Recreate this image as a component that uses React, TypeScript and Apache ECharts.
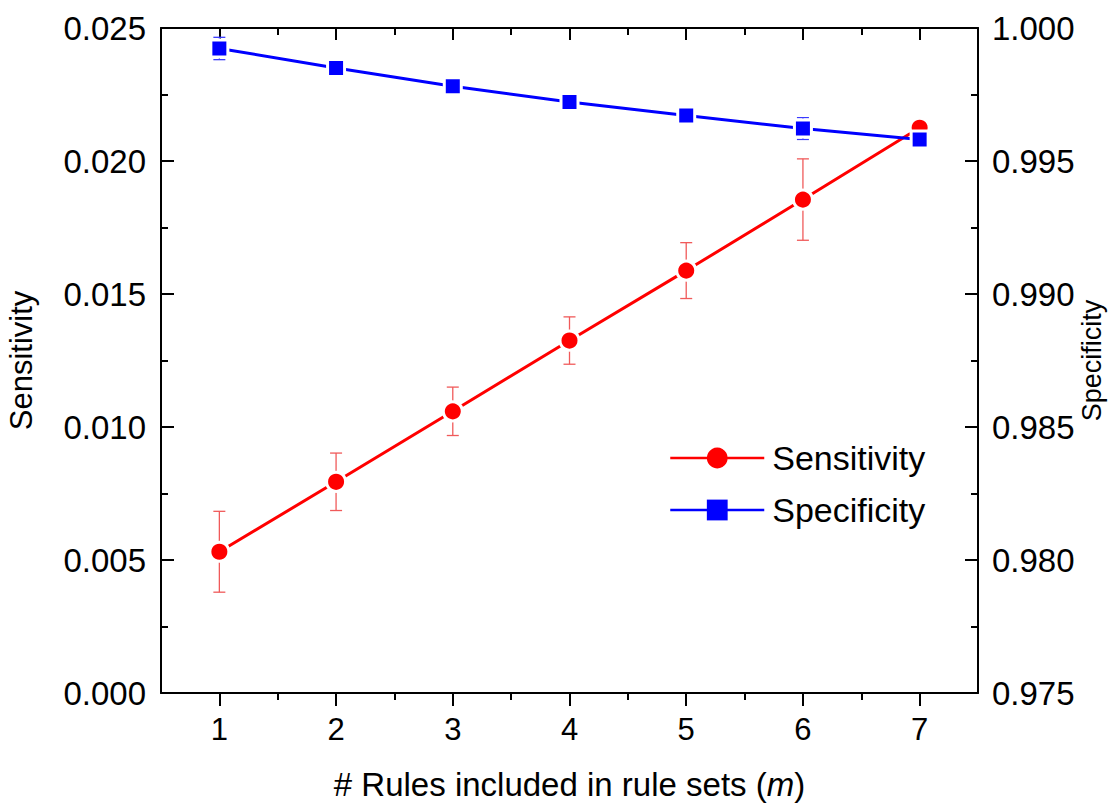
import React, { useEffect, useRef } from "react";
import * as echarts from "echarts";

const xValues = [1, 2, 3, 4, 5, 6, 7];
const sensitivity = [0.00531, 0.00794, 0.01059, 0.01325, 0.01588, 0.01855, 0.02125];
const sensitivityErr = [0.00152, 0.00108, 0.00091, 0.00089, 0.00105, 0.00153, 0.0001];
const specificity = [0.99923, 0.9985, 0.99781, 0.99722, 0.99671, 0.99622, 0.99581];
const specificityErr = [0.00042, 0.0001, 0.00005, 0.00005, 0.00006, 0.00041, 0.0001];
const xMajorTicks = [1, 2, 3, 4, 5, 6, 7];
const xMinorTicks = [1.5, 2.5, 3.5, 4.5, 5.5, 6.5];

const FONT = "'Liberation Sans', Arial, Helvetica, sans-serif";

function errorRender(color: string) {
  return (params: any, api: any) => {
    const x = api.value(0);
    const lo = api.value(1);
    const hi = api.value(2);
    const pHi = api.coord([x, hi]);
    const pLo = api.coord([x, lo]);
    const cap = 6;
    const style = { stroke: color, lineWidth: 1.3, fill: "none" };
    return {
      type: "group",
      children: [
        { type: "line", shape: { x1: pHi[0], y1: pHi[1], x2: pLo[0], y2: pLo[1] }, style },
        { type: "line", shape: { x1: pHi[0] - cap, y1: pHi[1], x2: pHi[0] + cap, y2: pHi[1] }, style },
        { type: "line", shape: { x1: pLo[0] - cap, y1: pLo[1], x2: pLo[0] + cap, y2: pLo[1] }, style },
      ],
    };
  };
}

export default function App() {
  const ref = useRef<HTMLDivElement>(null);
  useEffect(() => {
    if (!ref.current) return;
    const chart = echarts.init(ref.current, undefined, { renderer: "svg" });
    const axisLine = { show: true, lineStyle: { color: "#000", width: 2 } };
    const xBase = { type: "value", min: 0.5, max: 7.5, splitLine: { show: false } };
    const option: any = {
      animation: false,
      backgroundColor: "#fff",
      grid: { left: 161, right: 135, top: 28, bottom: 116, containLabel: false, outerBoundsMode: "none" },
      legend: {
        data: ["Sensitivity", "Specificity"],
        orient: "vertical",
        left: 664,
        top: 436,
        itemWidth: 94,
        itemHeight: 26,
        itemGap: 18,
        itemStyle: { borderWidth: 0 },
        lineStyle: { width: 2.5 },
        textStyle: { fontFamily: FONT, fontSize: 34, color: "#000", padding: [0, 0, 0, 3] },
      },
      xAxis: [
        {
          ...xBase,
          position: "bottom",
          axisLine,
          axisTick: { show: true, inside: false, length: 13, customValues: xMajorTicks, lineStyle: { color: "#000", width: 2 } },
          axisLabel: { show: true, customValues: xMajorTicks, margin: 21, fontFamily: FONT, fontSize: 31, color: "#000" },
          name: "# Rules included in rule sets ({i|m})",
          nameLocation: "middle",
          nameGap: 75,
          nameMoveOverlap: false,
          nameTextStyle: {
            fontFamily: FONT,
            fontSize: 33,
            color: "#000",
            rich: { i: { fontFamily: FONT, fontSize: 33, fontStyle: "italic", color: "#000" } },
          },
        },
        {
          ...xBase,
          position: "bottom",
          axisLine: { show: false },
          axisTick: { show: true, inside: false, length: 7, customValues: xMinorTicks, lineStyle: { color: "#000", width: 2 } },
          axisLabel: { show: false },
        },
        {
          ...xBase,
          position: "top",
          axisLine,
          axisTick: { show: true, inside: true, length: 12, customValues: xMajorTicks, lineStyle: { color: "#000", width: 2 } },
          axisLabel: { show: false },
        },
        {
          ...xBase,
          position: "top",
          axisLine: { show: false },
          axisTick: { show: true, inside: true, length: 7, customValues: xMinorTicks, lineStyle: { color: "#000", width: 2 } },
          axisLabel: { show: false },
        },
      ],
      yAxis: [
        {
          type: "value",
          position: "left",
          min: 0,
          max: 0.025,
          interval: 0.005,
          splitLine: { show: false },
          axisLine,
          axisTick: { show: true, inside: true, length: 13, lineStyle: { color: "#000", width: 2 } },
          minorTick: { show: true, splitNumber: 2, length: 7, lineStyle: { color: "#000", width: 2 } },
          axisLabel: {
            margin: 15,
            fontFamily: FONT,
            fontSize: 33,
            color: "#000",
            formatter: (v: number) => v.toFixed(3),
          },
          name: "Sensitivity",
          nameLocation: "middle",
          nameGap: 124,
          nameMoveOverlap: false,
          nameTextStyle: { fontFamily: FONT, fontSize: 31, color: "#000" },
        },
        {
          type: "value",
          position: "right",
          min: 0.975,
          max: 1.0,
          interval: 0.005,
          splitLine: { show: false },
          axisLine,
          axisTick: { show: true, inside: true, length: 13, lineStyle: { color: "#000", width: 2 } },
          minorTick: { show: true, splitNumber: 2, length: 7, lineStyle: { color: "#000", width: 2 } },
          axisLabel: {
            margin: 14,
            fontFamily: FONT,
            fontSize: 33,
            color: "#000",
            formatter: (v: number) => v.toFixed(3),
          },
          name: "Specificity",
          nameLocation: "middle",
          nameGap: 100,
          nameMoveOverlap: false,
          nameTextStyle: { fontFamily: FONT, fontSize: 27, color: "#000" },
        },
      ],
      series: [
        {
          type: "custom",
          name: "sensErr",
          xAxisIndex: 0,
          yAxisIndex: 0,
          z: 1,
          renderItem: errorRender("#f05a5a"),
          encode: { x: 0, y: [1, 2] },
          data: xValues.map((x, i) => [x, sensitivity[i] - sensitivityErr[i], sensitivity[i] + sensitivityErr[i]]),
        },
        {
          type: "custom",
          name: "specErr",
          xAxisIndex: 0,
          yAxisIndex: 1,
          z: 1,
          renderItem: errorRender("#3a3aff"),
          encode: { x: 0, y: [1, 2] },
          data: xValues.map((x, i) => [x, specificity[i] - specificityErr[i], specificity[i] + specificityErr[i]]),
        },
        {
          type: "line",
          name: "Sensitivity",
          xAxisIndex: 0,
          yAxisIndex: 0,
          z: 3,
          symbol: "circle",
          symbolSize: 19,
          data: xValues.map((x, i) => [x, sensitivity[i]]),
          lineStyle: { color: "#ff0000", width: 3 },
          itemStyle: { color: "#ff0000", borderColor: "#ffffff", borderWidth: 3 },
        },
        {
          type: "line",
          name: "Specificity",
          xAxisIndex: 0,
          yAxisIndex: 1,
          z: 4,
          symbol: "rect",
          symbolSize: 17,
          data: xValues.map((x, i) => [x, specificity[i]]),
          lineStyle: { color: "#0000ff", width: 3 },
          itemStyle: { color: "#0000ff", borderColor: "#ffffff", borderWidth: 3 },
        },
      ],
    };
    chart.setOption(option);
    return () => chart.dispose();
  }, []);
  return (
    <div
      ref={ref}
      style={{ position: "fixed", left: 0, top: 0, width: 1113, height: 809, background: "#fff" }}
    />
  );
}
